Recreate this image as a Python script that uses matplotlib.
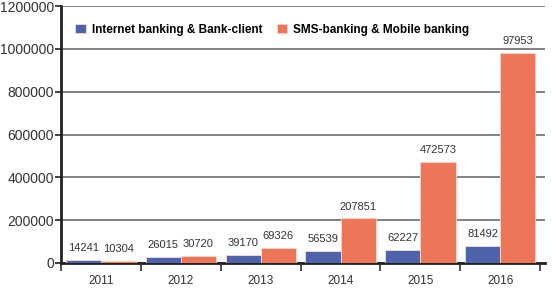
import numpy as np
import matplotlib.pyplot as plt
from matplotlib.ticker import FuncFormatter

years = ['2011', '2012', '2013', '2014', '2015', '2016']
internet = [14241, 26015, 39170, 56539, 62227, 81492]
sms = [10304, 30720, 69326, 207851, 472573, 979530]
internet_labels = ['14241', '26015', '39170', '56539', '62227', '81492']
sms_labels = ['10304', '30720', '69326', '207851', '472573', '97953']
series_names = ['Internet banking & Bank-client', 'SMS-banking & Mobile banking']

BLUE = '#4f63ad'
ORANGE = '#ee7658'

plt.rcParams['font.family'] = 'Liberation Sans'

fig = plt.figure(figsize=(5.56, 3.01), dpi=100)
ax = fig.add_axes([61 / 556, 38 / 301, 484 / 556, 257 / 301])

x = np.arange(len(years))
w = 0.44
b1 = ax.bar(x - 0.22, internet, w, color=BLUE, edgecolor='#f4dcd4', linewidth=0.6,
            label=series_names[0], zorder=3)
b2 = ax.bar(x + 0.22, sms, w, color=ORANGE, edgecolor='#f8d8cc', linewidth=0.6,
            label=series_names[1], zorder=3)

for bars, labels in ((b1, internet_labels), (b2, sms_labels)):
    for r, lab in zip(bars, labels):
        ax.annotate(lab, (r.get_x() + r.get_width() / 2, r.get_height()),
                    xytext=(0, 5), textcoords='offset points', ha='center', va='bottom',
                    fontsize=8, color='#333333')

ax.set_ylim(0, 1200000)
ax.set_xlim(-0.5, 5.56)
ax.set_yticks(np.arange(0, 1200001, 200000))
ax.yaxis.set_major_formatter(FuncFormatter(lambda v, p: '%d' % v))
ax.tick_params(axis='y', labelsize=10, length=4, width=1.2, color='#222222',
               labelcolor='#333333', pad=1)
ax.yaxis.grid(True, color='#777777', linewidth=1.3, zorder=0)

ax.set_xticks(x)
ax.set_xticklabels(years)
ax.set_xticks(np.arange(-0.5, 6, 1), minor=True)
ax.tick_params(axis='x', which='major', length=0, labelsize=8.5, labelcolor='#333333', pad=9)
ax.tick_params(axis='x', which='minor', length=6, width=1.2, color='#333333')

for s in ('top', 'right'):
    ax.spines[s].set_visible(False)
ax.spines['left'].set_linewidth(2)
ax.spines['left'].set_color('#222222')
ax.spines['bottom'].set_linewidth(2)
ax.spines['bottom'].set_color('#222222')

ax.legend(loc='upper left', bbox_to_anchor=(0.02, 0.95), ncol=2, frameon=False,
          prop={'weight': 'bold', 'size': 8.5}, handlelength=0.9, handleheight=0.9,
          handletextpad=0.5, columnspacing=1.2, borderaxespad=0)

fig.savefig('out.png', dpi=100)
